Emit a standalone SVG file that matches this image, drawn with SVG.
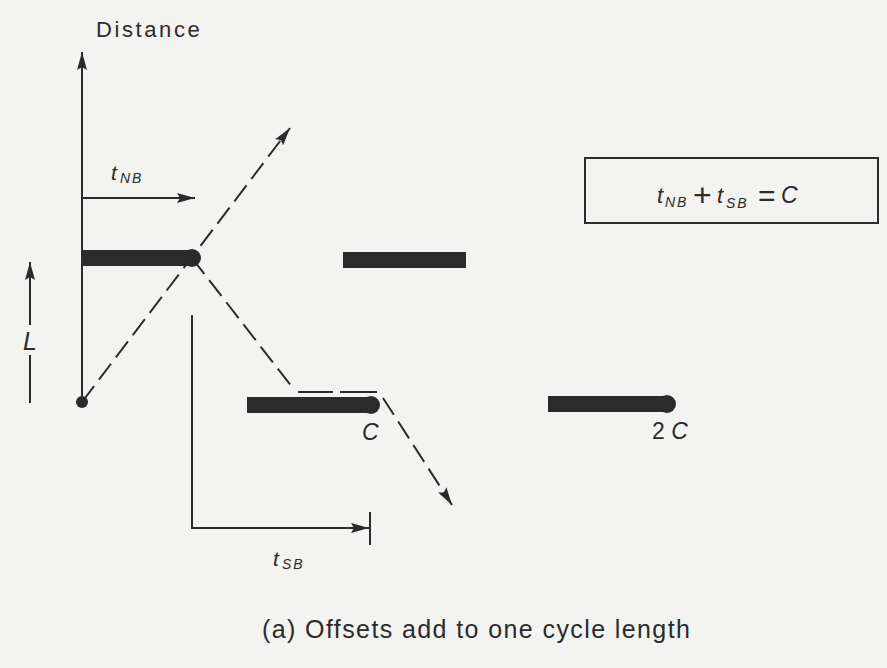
<svg xmlns="http://www.w3.org/2000/svg" width="887" height="668" viewBox="0 0 887 668">
  <defs>
    <marker id="ahL" viewBox="0 0 18 10" refX="18" refY="5" markerWidth="18" markerHeight="10" markerUnits="userSpaceOnUse" orient="auto">
      <path d="M0,0 L18,5 L0,10 L3,5 Z" fill="#2b2b2b"/>
    </marker>
  </defs>
  <style>
    .ln{stroke:#2b2b2b;stroke-width:2;fill:none}
    .ds{stroke:#2b2b2b;stroke-width:2;fill:none;stroke-dasharray:20 8}
    .bar{stroke:#2b2b2b;stroke-width:16;fill:none}
    .dot{fill:#2b2b2b}
    .t{font-family:"Liberation Sans",Arial,sans-serif;fill:#2b2b2b}
    .it{font-family:"Liberation Sans",Arial,sans-serif;font-style:italic;fill:#2b2b2b}
    .sub{font-family:"Liberation Sans",Arial,sans-serif;font-style:italic;fill:#2b2b2b;font-size:14px;letter-spacing:1.8px}
  </style>
  <rect x="0" y="0" width="887" height="668" fill="#f3f3f1"/>

  <g id="axis">
    <line class="ln" x1="82" y1="402" x2="82" y2="52" marker-end="url(#ahL)"/>
    <text class="t" x="96" y="37" font-size="22" letter-spacing="2.6">Distance</text>
  </g>

  <g id="L-arrow">
    <line class="ln" x1="30" y1="403" x2="30" y2="355"/>
    <line class="ln" x1="30" y1="325" x2="30" y2="262" marker-end="url(#ahL)"/>
    <text class="it" x="23" y="350" font-size="25">L</text>
  </g>

  <g id="tNB">
    <line class="ln" x1="82" y1="198" x2="195" y2="198" marker-end="url(#ahL)"/>
    <text class="it" x="111" y="180" font-size="21">t</text>
    <text class="sub" x="120" y="183">NB</text>
  </g>

  <g id="green-band-1">
    <line class="bar" x1="82" y1="258" x2="192" y2="258"/>
    <circle class="dot" cx="192" cy="258" r="9"/>
  </g>
  <g id="green-band-2">
    <line class="bar" x1="343" y1="260" x2="466" y2="260"/>
  </g>
  <g id="green-band-3">
    <line class="bar" x1="247" y1="405" x2="371" y2="405"/>
    <circle class="dot" cx="371" cy="405" r="9"/>
    <text class="it" x="362" y="440" font-size="23">C</text>
  </g>
  <g id="green-band-4">
    <line class="bar" x1="548" y1="404" x2="667" y2="404"/>
    <circle class="dot" cx="667" cy="404" r="9"/>
    <text class="t" x="652" y="439" font-size="23">2 <tspan font-style="italic">C</tspan></text>
  </g>

  <g id="origin">
    <circle class="dot" cx="82" cy="402" r="6"/>
  </g>

  <g id="connectors">
    <line class="ds" x1="82" y1="402" x2="290" y2="128" marker-end="url(#ahL)"/>
    <line class="ds" x1="192" y1="258" x2="292" y2="387"/>
    <line class="ln" x1="298" y1="392" x2="333" y2="392"/>
    <line class="ln" x1="340" y1="392" x2="377" y2="392"/>
    <line class="ds" x1="383" y1="398" x2="452" y2="505" marker-end="url(#ahL)"/>
  </g>

  <g id="tSB">
    <polyline class="ln" points="192,315 192,528 369,528" marker-end="url(#ahL)"/>
    <line class="ln" x1="370" y1="512" x2="370" y2="545"/>
    <text class="it" x="273" y="566" font-size="21">t</text>
    <text class="sub" x="282" y="569">SB</text>
  </g>

  <g id="equation-box">
    <rect x="585" y="158" width="293" height="65" fill="none" stroke="#2b2b2b" stroke-width="2"/>
    <text class="it" x="657" y="203" font-size="22">t</text>
    <text class="sub" x="665" y="207" font-size="15">NB</text>
    <text class="t" x="693" y="206" font-size="32">+</text>
    <text class="it" x="717" y="203" font-size="22">t</text>
    <text class="sub" x="726" y="208" font-size="15">SB</text>
    <text class="t" x="758" y="206" font-size="30">=</text>
    <text class="it" x="781" y="203" font-size="23">C</text>
  </g>

  <g id="caption">
    <text class="t" x="262" y="638" font-size="25" letter-spacing="1.4">(a) Offsets add to one cycle length</text>
  </g>
</svg>
